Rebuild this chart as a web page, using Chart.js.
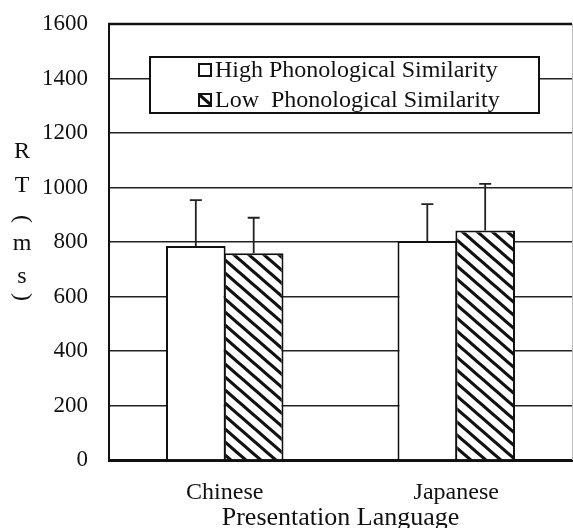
<!DOCTYPE html>
<html><head><meta charset="utf-8">
<script src="https://cdn.jsdelivr.net/npm/chart.js@4.4.1/dist/chart.umd.min.js"></script>
<style>html,body{margin:0;padding:0;background:#fff}</style>
</head><body>
<canvas id="c" width="573" height="528"></canvas>
<script>
const categories = ['Chinese', 'Japanese'];
const seriesNames = ['High Phonological Similarity', 'Low  Phonological Similarity'];
const highValues = [785, 804];
const lowValues = [759, 842];
const highErrors = [169, 135];
const lowErrors = [130, 171];
const yTickValues = [0, 200, 400, 600, 800, 1000, 1200, 1400, 1600];
const yTitleChars = ['R', 'T', '(', 'm', 's', ')'];
const xTitle = 'Presentation Language';

const FONT = '"Liberation Serif", "Times New Roman", serif';

const ctx0 = document.getElementById('c').getContext('2d');
const hatch = ctx0.createPattern((function(){
  const w = 15, h = 13;
  const p = document.createElement('canvas');
  p.width = w; p.height = h;
  const g = p.getContext('2d');
  g.fillStyle = '#fff';
  g.fillRect(0, 0, w, h);
  g.strokeStyle = '#111';
  g.lineWidth = 3.2;
  for (let k = -1; k <= 1; k++) {
    g.beginPath();
    g.moveTo(-w, k * h - h);
    g.lineTo(2 * w, k * h + 2 * h);
    g.stroke();
  }
  return p;
})(), 'repeat');

const errorSets = [highErrors, lowErrors];

const deco = {
  id: 'deco',
  afterDatasetsDraw(chart) {
    const {ctx, chartArea: a, scales} = chart;
    const y = scales.y;
    ctx.save();
    // top border
    ctx.strokeStyle = '#111';
    ctx.lineWidth = 2.5;
    ctx.beginPath();
    ctx.moveTo(a.left - 1, a.top);
    ctx.lineTo(a.right, a.top);
    ctx.stroke();
    // right light border
    ctx.strokeStyle = '#bbb';
    ctx.lineWidth = 1;
    ctx.beginPath();
    ctx.moveTo(a.right + 0.5, a.top);
    ctx.lineTo(a.right + 0.5, a.bottom);
    ctx.stroke();
    // error bars
    ctx.strokeStyle = '#222';
    ctx.lineWidth = 1.8;
    chart.data.datasets.forEach((ds, i) => {
      const meta = chart.getDatasetMeta(i);
      meta.data.forEach((bar, j) => {
        const top = y.getPixelForValue(ds.data[j] + errorSets[i][j]);
        ctx.beginPath();
        ctx.moveTo(bar.x, bar.y);
        ctx.lineTo(bar.x, top);
        ctx.moveTo(bar.x - 6, top);
        ctx.lineTo(bar.x + 6, top);
        ctx.stroke();
      });
    });
    // legend box
    const lx = 150, ly = 57, lw = 389, lh = 56;
    ctx.fillStyle = '#fff';
    ctx.fillRect(lx, ly, lw, lh);
    ctx.strokeStyle = '#111';
    ctx.lineWidth = 2;
    ctx.strokeRect(lx, ly, lw, lh);
    const rows = [70, 100];
    const fills = ['#fff', hatch];
    ctx.font = '24px ' + FONT;
    ctx.textBaseline = 'middle';
    ctx.textAlign = 'left';
    rows.forEach((ry, i) => {
      ctx.fillStyle = fills[i];
      ctx.fillRect(199, ry - 6, 12, 12);
      ctx.strokeStyle = '#111';
      ctx.lineWidth = 2;
      ctx.strokeRect(199, ry - 6, 12, 12);
      ctx.fillStyle = '#111';
      ctx.fillText(seriesNames[i], 215, ry + 1);
    });
    // y title (vertical stacked)
    const ys = [152, 186, 219, 244, 277, 297];
    ctx.font = '24px ' + FONT;
    ctx.textAlign = 'center';
    yTitleChars.forEach((ch, i) => {
      if (ch === '(' || ch === ')') {
        ctx.save();
        ctx.translate(22, ys[i]);
        ctx.rotate(Math.PI / 2);
        ctx.fillText(ch, 0, 0);
        ctx.restore();
      } else {
        ctx.fillText(ch, 22, ys[i]);
      }
    });
    ctx.restore();
  }
};

new Chart(document.getElementById('c'), {
  type: 'bar',
  data: {
    labels: categories,
    datasets: [
      { label: seriesNames[0], data: highValues, backgroundColor: '#fff', borderColor: '#111', borderWidth: 2, borderSkipped: 'bottom' },
      { label: seriesNames[1], data: lowValues, backgroundColor: hatch, borderColor: '#111', borderWidth: 2, borderSkipped: 'bottom' }
    ]
  },
  options: {
    responsive: false,
    animation: false,
    devicePixelRatio: 1,
    layout: { padding: { top: 24, right: 1, bottom: 0, left: 0 } },
    plugins: { legend: { display: false }, tooltip: { enabled: false } },
    datasets: { bar: { categoryPercentage: 0.5, barPercentage: 1.03 } },
    scales: {
      x: {
        grid: { display: false },
        border: { color: '#111', width: 3 },
        ticks: { color: '#111', font: { family: FONT, size: 24 }, padding: 10 },
        title: { display: true, text: xTitle, color: '#111', font: { family: FONT, size: 26, lineHeight: 1 }, padding: { top: 0, bottom: -3 } },
        afterFit(s) { s.height = 68; }
      },
      y: {
        min: 0, max: 1600,
        afterBuildTicks(s) { s.ticks = yTickValues.map(v => ({ value: v })); },
        grid: { color: '#222', lineWidth: 1.5, drawTicks: false },
        border: { color: '#111', width: 2 },
        ticks: { color: '#111', font: { family: FONT, size: 23 }, padding: 21, callback: (v) => String(v) },
        afterFit(s) { s.width = 109; s.paddingTop = 0; s.paddingBottom = 0; }
      }
    }
  },
  plugins: [deco]
});
</script>
</body></html>
